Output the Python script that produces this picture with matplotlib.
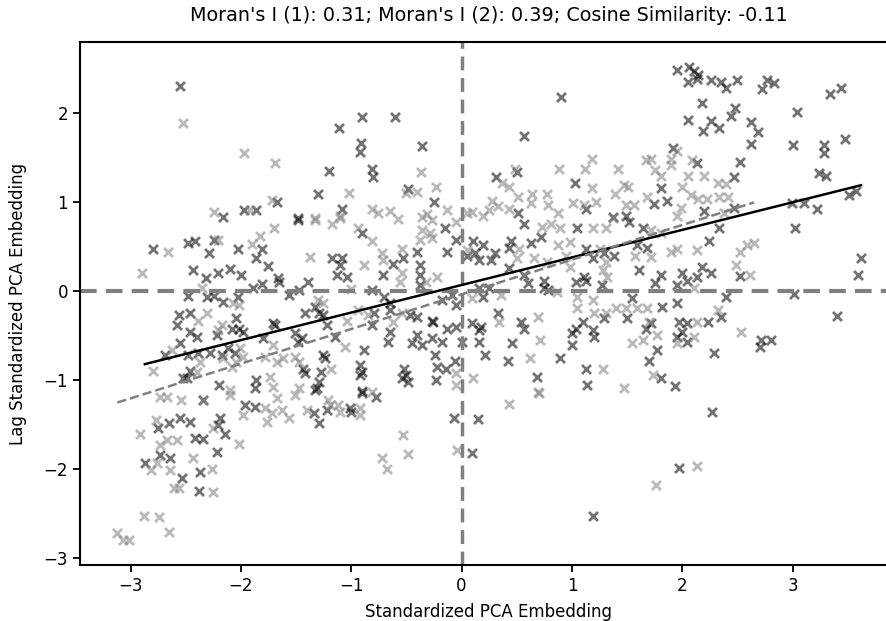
import matplotlib
matplotlib.use("Agg")
import matplotlib.pyplot as plt
import numpy as np

# embedding 1 (dark crosses) and its spatial lag
emb1_x = [-2.55, -1.67, -1.97, -1.86, -2.16,
          -0.90, -0.60, -1.11, -0.91, -0.92, -0.36, -1.20, -0.81, -0.80, -1.30, -0.49, -0.25, -1.08, -1.48,
          0.90, 0.57, 0.31, 0.50, 1.03, 1.81, 1.74, 0.51, 1.13, 1.37, 1.49, 1.86,
          1.95, 2.06, 2.11, 2.14, 2.05, 2.13, 2.26, 2.35, 2.40, 2.50, 2.77, 2.72, 2.83, 3.34, 3.44, 2.18, 2.48,
          2.44, 3.04, 2.05, 2.26, 2.19, 2.33, 2.62, 2.69, 2.62, 3.00, 3.28, 3.28, 3.47, 1.92, 2.13, 2.52, 2.47,
          3.24, 3.30, 2.20, 2.47, 2.99, 3.10, 3.22, 3.51, 3.57,
          -2.80, -2.48, -2.42, -2.29, -2.24, -2.03, -1.81, -1.86, -1.75, -2.43, -2.32, -2.21, -2.10, -2.00,
          -1.89, -1.81, -2.48, -2.31, -2.24, -2.16, -2.03, -2.56, -2.46, -2.58, -2.04, -2.02, -2.08, -2.46,
          -2.40, -2.22, -1.98, -1.71, -1.80, -2.55, -2.69, -2.48, -2.39, -2.28, -2.17, -2.12, -2.05, -2.46,
          -2.52, -2.49, -2.20, -1.86, -1.87,
          -1.48, -0.90, -0.15, -0.05, -0.40, -0.13, 0.05, -1.17, -1.08, -1.10, -1.13, -1.04, -0.62, -0.53,
          -0.71, -0.38, -0.38, -0.38, -1.66, -1.65, -1.56, -1.47, -1.39, -0.81, -0.70, -0.65, -0.65, -0.09,
          -0.05, -0.18, -1.42, -1.33, -1.29, -1.26, -0.79, -0.47, -0.40, -0.27, -0.26, -1.69, -1.22, -1.15,
          -0.81, -0.65, -0.67, -1.51, -1.48, -1.45, -0.40, -0.45, -0.36, -0.27, -0.18, -0.13, -0.05, 0.00,
          -0.88, -1.26, -1.24, -1.27, -1.29, -1.44, -1.42, -0.92, -0.92, -0.90, -0.52, -0.50, -0.54, -0.49,
          -0.24, -0.22, -0.14, -0.06, -0.23, -1.31, -0.90,
          0.57, 1.05, 1.52, 1.64, 0.10, 0.19, 0.12, 0.16, 0.30, 0.27, 0.45, 0.43, 0.63, 0.72, 1.13, 1.19,
          1.29, 1.38, 1.59, 1.68, 1.61, 1.81, 1.75, 0.25, 0.16, 0.19, 0.43, 0.57, 0.60, 0.75, 0.75, 0.78,
          1.04, 1.11, 1.13, 1.27, 1.54, 1.82, 0.33, 0.54, 0.57, 0.09, 0.18, 0.16, 1.10, 1.04, 1.00, 1.19,
          1.20, 1.29, 1.50, 1.67, 1.72, 0.16, 0.21, 0.46, 1.00, 0.42, 0.89, 1.77, 1.70, 1.81, 0.68, 1.13, 1.14,
          3.02, 3.62, 3.59, 3.01, 3.40, 2.24, 2.18, 2.26, 2.13, 2.04, 1.95, 2.00, 2.33, 2.52, 2.40, 1.95,
          1.97, 2.04, 2.23, 2.35, 2.00, 1.95, 2.04, 2.71, 2.70, 2.80, 2.29, 1.93,
          -2.34, -1.96, -1.87, -2.65, -2.55, -2.46, -2.75, -2.19, -2.21, -2.14, -2.42, -2.34, -2.22, -2.87,
          -2.73, -2.64, -2.37, -2.53, -2.38,
          -1.33, -1.34, -1.29, -1.22, -1.01, -1.00, -0.90, -0.78, -0.07, 0.09, 0.15, 1.19, 2.27, 1.97]
emb1_lag = [2.31, 1.00, 0.91, 0.91, 0.84,
            1.96, 1.96, 1.83, 1.67, 1.56, 1.63, 1.35, 1.37, 1.29, 1.09, 1.15, 1.00, 0.93, 0.82,
            2.18, 1.74, 1.29, 1.34, 1.22, 1.16, 0.98, 0.88, 0.93, 0.84, 0.85, 1.02,
            2.49, 2.52, 2.48, 2.43, 2.35, 2.39, 2.37, 2.35, 2.28, 2.38, 2.38, 2.27, 2.34, 2.22, 2.29, 2.12, 2.06,
            1.97, 2.01, 1.92, 1.91, 1.80, 1.83, 1.90, 1.79, 1.65, 1.64, 1.64, 1.55, 1.71, 1.61, 1.44, 1.45, 1.28,
            1.33, 1.30, 0.90, 0.94, 0.99, 0.99, 0.93, 1.08, 1.13,
            0.48, 0.54, 0.57, 0.43, 0.58, 0.47, 0.47, 0.37, 0.28, 0.24, 0.15, 0.21, 0.25, 0.18,
            0.04, 0.08, -0.05, -0.07, -0.05, -0.12, -0.07, -0.27, -0.24, -0.38, -0.30, -0.42, -0.42, -0.46,
            -0.52, -0.49, -0.46, -0.36, -0.53, -0.58, -0.72, -0.72, -0.69, -0.70, -0.72, -0.64, -0.69, -0.90,
            -0.98, -0.98, -1.06, -1.00, -1.09,
            0.80, 0.65, 0.71, 0.58, 0.44, 0.44, 0.40, 0.37, 0.37, 0.29, 0.18, 0.16, 0.31, 0.37,
            0.18, 0.29, 0.18, 0.07, 0.15, 0.10, -0.04, 0.01, 0.10, 0.01, -0.07, -0.13, -0.21, -0.04,
            -0.16, -0.10, -0.24, -0.18, -0.24, -0.27, -0.25, -0.27, -0.29, -0.33, -0.35, -0.38, -0.38, -0.52,
            -0.38, -0.46, -0.57, -0.47, -0.57, -0.53, -0.49, -0.58, -0.61, -0.53, -0.57, -0.42, -0.40, -0.57,
            -0.66, -0.72, -0.75, -0.91, -1.02, -0.87, -0.92, -0.83, -0.94, -0.91, -0.87, -0.94, -0.98, -1.02,
            -0.72, -0.85, -0.87, -0.78, -1.00, -1.09, -1.12,
            0.76, 0.71, 0.78, 0.71, 0.57, 0.52, 0.43, 0.35, 0.43, 0.35, 0.57, 0.49, 0.54, 0.61, 0.48, 0.37,
            0.43, 0.40, 0.52, 0.49, 0.24, 0.18, 0.09, 0.04, 0.04, -0.07, 0.26, 0.18, 0.09, 0.12, 0.04, 0.01,
            0.10, 0.16, 0.12, 0.07, -0.08, -0.18, -0.25, -0.35, -0.42, -0.36, -0.40, -0.44, -0.35, -0.42, -0.47, -0.44,
            -0.52, -0.30, -0.30, -0.42, -0.36, -0.57, -0.72, -0.58, -0.61, -0.78, -0.75, -0.66, -0.78, -0.98, -0.96, -0.88, -1.06,
            0.71, 0.37, 0.18, -0.03, -0.28, 0.57, 0.27, 0.21, 0.16, 0.12, 0.07, 0.21, 0.71, 0.17, -0.07, -0.13,
            -0.35, -0.36, -0.35, -0.29, -0.46, -0.52, -0.57, -0.55, -0.63, -0.55, -0.70, -1.07,
            -1.22, -1.28, -1.30, -1.48, -1.43, -1.47, -1.54, -1.43, -1.51, -1.60, -1.65, -1.66, -1.81, -1.93,
            -1.84, -1.88, -2.03, -2.10, -2.25,
            -1.11, -1.37, -1.48, -1.34, -1.31, -1.36, -1.15, -1.19, -1.43, -1.82, -1.44, -2.53, -1.36, -1.99]

# embedding 2 (light crosses) and its spatial lag
emb2_x = [-2.52, -1.97, -1.69, -1.72, -1.92, -2.24,
          -0.37, -1.02, -0.50, -0.40, -0.23, -0.81, -0.76, -0.65, -0.13, -0.36, -0.31, -1.33, -1.10, 0.05,
          0.48, 0.37, 0.43, 0.88, 1.12, 1.18, 1.18, 1.42, 1.47, 1.51, 1.39, 1.67, 1.72, 1.75, 1.81, 1.68,
          0.51, 0.64, 0.77, 0.28, 0.25, 0.33, 0.63, 0.78, 0.87, 1.01, 1.11, 1.22, 1.49, 1.56, 0.43, 0.19, 0.09,
          1.95, 1.90, 1.90, 2.09, 2.05, 2.20, 2.32, 2.40, 2.00, 2.08, 2.14, 2.22, 2.33, 2.41, 1.99, 1.95, 2.38,
          -2.66, -2.90, -2.21, -1.90, -1.83, -1.70, -2.35, -2.07, -2.02, -2.31, -2.39, -2.17, -2.21, -2.62,
          -2.01, -1.98, -2.37, -2.16, -2.08, -2.04, -2.80, -2.40, -2.10, -1.74, -1.71, -1.78, -1.67, -1.71,
          -1.33, -1.17, -1.10, -0.94, -0.81, -0.58, -0.36, -0.29, -0.38, -0.27, -0.05, -0.27, 0.05, -1.37,
          -0.88, -0.72, -0.71, -0.54, -0.54, -0.56, -0.32, -0.22, -1.00, -1.30, -1.26, -0.85, -0.54, -0.62,
          -1.04, -0.94, -1.06, -1.62, -1.51, -1.47, -1.18, -0.05, -0.05, -1.47, -0.81,
          0.73, 0.81, 0.89, 1.19, 1.31, 1.37, 1.72, 1.81, 0.52, 0.50, 0.66, 0.77, 0.87, 0.98, 0.95, 0.98,
          1.25, 1.31, 1.28, 1.57, 1.72, 1.32, 0.36, 0.09, 0.86, 1.05, 1.19, 1.05, 1.40, 1.49, 1.59, 1.68,
          1.20, 1.31, 0.34, 0.69, 1.70, 1.77, 1.64, 1.54, 0.71, 0.62, 1.73, 1.28, 1.47, 0.10, 0.69,
          2.52, 2.59, 2.65, 2.49, 2.61, 2.13, 1.95, 1.90, 2.11, 2.13, 2.32, 2.11, 1.95, 2.53,
          -2.73, -2.67, -2.54, -2.34, -2.10, -1.78, -1.72, -1.76, -1.98, -2.77, -2.91, -2.25, -2.58, -2.67,
          -2.73, -2.02, -2.81, -2.76, -2.43, -2.64, -2.26, -2.61, -2.56, -2.25, -2.88, -2.74, -2.65, -3.12,
          -3.07, -3.01,
          -1.67, -1.51, -1.63, -1.56, -1.40, -1.21, -1.19, -1.10, -1.12, -0.92, -0.92, -0.53, -0.49, -0.72,
          -0.68, -0.04, 0.43, 0.70, 1.76, 2.13]
emb2_lag = [1.89, 1.55, 1.44, 1.03, 0.91, 0.89,
            1.34, 1.11, 1.10, 1.12, 1.17, 0.93, 0.88, 0.90, 0.91, 0.84, 0.87, 0.82, 0.85, 0.88,
            1.38, 1.22, 1.17, 1.38, 1.38, 1.49, 1.16, 1.38, 1.19, 1.17, 1.09, 1.47, 1.49, 1.36, 1.30, 1.06,
            1.06, 1.09, 1.09, 1.02, 0.91, 0.96, 0.99, 0.97, 0.88, 0.99, 0.97, 1.00, 0.97, 0.97, 0.93, 0.85, 0.89,
            1.58, 1.49, 1.42, 1.47, 1.30, 1.30, 1.22, 1.21, 1.17, 1.08, 1.04, 1.04, 1.06, 1.06, 0.94, 0.85, 0.88,
            0.44, 0.21, 0.58, 0.53, 0.62, 0.71, 0.04, -0.13, -0.15, -0.24, -0.34, -0.38, -0.44, -0.66,
            -0.64, -0.74, -0.80, -0.75, -0.85, -0.80, -0.90, -0.91, -1.11, -0.97, -1.08, -0.74, -0.80, -0.61,
            0.80, 0.76, 0.82, 0.71, 0.56, 0.81, 0.69, 0.66, 0.58, 0.60, 0.78, 0.80, 0.46, 0.38,
            0.29, 0.43, 0.35, 0.48, 0.20, 0.10, 0.10, 0.16, 0.03, -0.10, -0.13, -0.27, -0.24, -0.35,
            -0.34, -0.21, -0.63, -0.75, -0.74, -0.80, -0.87, -1.06, -0.92, -1.09, -1.13,
            0.72, 0.76, 0.71, 0.71, 0.71, 0.82, 0.69, 0.66, 0.48, 0.37, 0.37, 0.33, 0.52, 0.55, 0.40, 0.27,
            0.48, 0.33, 0.24, 0.40, 0.38, 0.16, -0.04, -0.08, -0.01, -0.07, -0.10, -0.19, -0.19, -0.19, -0.19, -0.19,
            -0.24, -0.24, -0.35, -0.29, -0.35, -0.49, -0.55, -0.58, -0.55, -0.75, -0.94, -0.87, -1.09, -0.98, -1.13,
            0.44, 0.52, 0.54, 0.29, 0.18, 0.46, 0.48, 0.44, 0.04, -0.35, -0.21, -0.52, -0.58, -0.46,
            -1.19, -1.19, -1.22, -1.22, -1.17, -1.31, -1.37, -1.47, -1.39, -1.45, -1.60, -1.54, -1.67, -1.67,
            -1.73, -1.72, -2.01, -1.93, -1.87, -2.01, -2.00, -2.21, -2.21, -2.26, -2.53, -2.54, -2.71, -2.72,
            -2.80, -2.80,
            -1.20, -1.17, -1.34, -1.43, -1.34, -1.22, -1.28, -1.36, -1.28, -1.31, -1.39, -1.62, -1.83, -1.88,
            -2.00, -1.79, -1.27, -1.15, -2.18, -1.96]

# fitted lines (slope = Moran's I, intercept)
fit1 = (0.31, 0.07)
fit2 = (0.39, -0.035)
title_text = "Moran's I (1): 0.31; Moran's I (2): 0.39; Cosine Similarity: -0.11"


def main():
    fig = plt.figure(figsize=(8.86, 6.21), dpi=100)
    # the axes runs a little past the right edge of the picture, as in the reference
    ax = fig.add_axes([0.090, 0.090, 0.923, 0.842])

    ax.scatter(emb1_x, emb1_lag, marker="x", color="black", alpha=0.55, s=42, linewidths=2)
    ax.scatter(emb2_x, emb2_lag, marker="x", color="grey", alpha=0.55, s=42, linewidths=2)

    ax.axhline(0, color="grey", linestyle="--", linewidth=3, dashes=(4, 2.2))
    ax.axvline(0, color="grey", linestyle="--", linewidth=2.5, dashes=(4, 2.2))

    xs1 = np.array([min(emb1_x), max(emb1_x)])
    ax.plot(xs1, fit1[0] * xs1 + fit1[1], color="black", linewidth=1.8)
    xs2 = np.array([min(emb2_x), max(emb2_x)])
    ax.plot(xs2, fit2[0] * xs2 + fit2[1], color="grey", linestyle="--", linewidth=1.8)

    ax.set_xlim(-3.46, 3.95)
    ax.set_ylim(-3.08, 2.80)
    ax.set_xticks([-3, -2, -1, 0, 1, 2, 3])
    ax.set_yticks([-3, -2, -1, 0, 1, 2])
    ax.set_xticklabels(["−3", "−2", "−1", "0", "1", "2", "3"])
    ax.set_yticklabels(["−3", "−2", "−1", "0", "1", "2"])
    ax.tick_params(labelsize=12, width=1.3, length=5)
    for sp in ax.spines.values():
        sp.set_linewidth(1.5)

    ax.set_xlabel("Standardized PCA Embedding", fontsize=12, labelpad=6)
    ax.set_ylabel("Lag Standardized PCA Embedding", fontsize=12, labelpad=12)
    ax.set_title(title_text, fontsize=13.8, pad=15)

    fig.savefig("out.png", dpi=100)


if __name__ == "__main__":
    main()
